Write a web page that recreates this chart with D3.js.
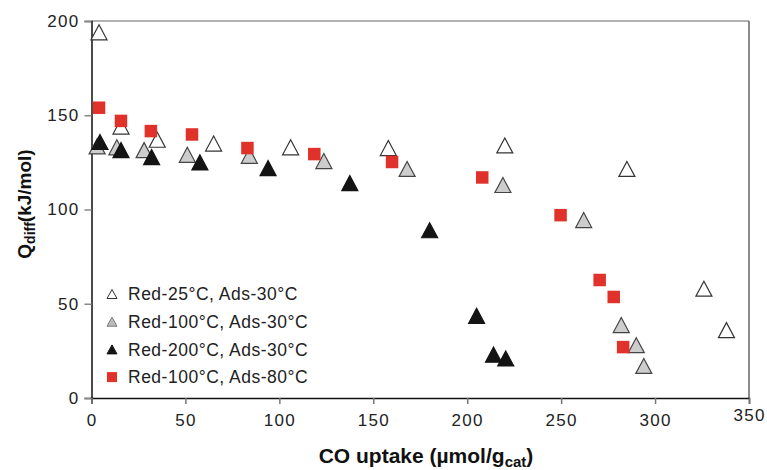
<!DOCTYPE html>
<html>
<head>
<meta charset="utf-8">
<script src="https://cdn.jsdelivr.net/npm/d3@7"></script>
<style>
  body { margin: 0; background: #fff; }
  svg text { font-family: "Liberation Sans", Arial, Helvetica, sans-serif; }
</style>
</head>
<body>
<svg id="chart" width="767" height="470"></svg>
<script>
"use strict";

// Data
var xTicks = [0, 50, 100, 150, 200, 250, 300, 350];
var yTicks = [0, 50, 100, 150, 200];

var seriesNames = ["Red-25\u00B0C, Ads-30\u00B0C", "Red-100\u00B0C, Ads-30\u00B0C",
                   "Red-200\u00B0C, Ads-30\u00B0C", "Red-100\u00B0C, Ads-80\u00B0C"];

// Red-25C, Ads-30C (open triangles)
var openX = [4, 15.7, 35, 65, 106, 158, 220, 285, 326, 338];
var openY = [194, 144, 137, 135, 133, 132.6, 134, 121.5, 58, 36];

// Red-100C, Ads-30C (grey triangles)
var greyX = [3, 13.5, 28, 51, 84, 123.7, 168, 219, 262, 282, 290, 294];
var greyY = [133.5, 133, 131.5, 129, 128.5, 125.7, 121.5, 113, 94.4, 38.7, 28, 17];

// Red-200C, Ads-30C (black triangles)
var blackX = [4.5, 15.7, 32, 57.7, 94, 137.5, 180, 205, 214, 220.5];
var blackY = [135.8, 131.5, 127.8, 125, 122, 114, 89, 43.6, 23, 21];

// Red-100C, Ads-80C (red squares)
var redX = [4, 15.7, 31.6, 53.5, 83, 118.6, 160, 208, 249.7, 270.5, 278, 283];
var redY = [154, 147, 141.6, 139.8, 132.6, 129.4, 125.2, 117, 97, 62.6, 53.6, 27];

var svg = d3.select("#chart");

var x = d3.scaleLinear().domain([0, 350]).range([91.5, 749]);
var y = d3.scaleLinear().domain([0, 200]).range([398, 21]);

// frame (top and right in grey)
svg.append("line").attr("x1", x(0)).attr("x2", x(350)).attr("y1", y(200)).attr("y2", y(200))
  .attr("stroke", "#999").attr("stroke-width", 1.5);
svg.append("line").attr("x1", x(350)).attr("x2", x(350)).attr("y1", y(200)).attr("y2", y(0))
  .attr("stroke", "#666").attr("stroke-width", 1.5);

// y axis
var yAxis = svg.append("g").attr("transform", "translate(" + x(0) + ",0)")
  .call(d3.axisLeft(y).tickValues(yTicks).tickSize(7).tickPadding(5).tickFormat(d3.format("d")));
yAxis.select(".domain").attr("stroke", "#111").attr("stroke-width", 1.5);
yAxis.selectAll(".tick line").attr("stroke", "#888").attr("stroke-width", 1.5);
yAxis.selectAll(".tick text").attr("font-size", 17).attr("letter-spacing", 1.3).attr("fill", "#222");

// x axis
var xAxis = svg.append("g").attr("transform", "translate(0," + y(0) + ")")
  .call(d3.axisBottom(x).tickValues(xTicks).tickSize(6).tickPadding(10).tickFormat(d3.format("d")));
xAxis.select(".domain").attr("stroke", "#111").attr("stroke-width", 1.5);
xAxis.selectAll(".tick line").attr("stroke", "#777").attr("stroke-width", 1.5);
xAxis.selectAll(".tick text").attr("font-size", 17).attr("letter-spacing", 1.3).attr("fill", "#222")
  .attr("dy", function (d) { return d === 350 ? "0.4em" : "0.71em"; });

// axis titles
var yt = svg.append("text")
  .attr("transform", "translate(31,204) rotate(-90)")
  .attr("text-anchor", "middle").attr("font-weight", "bold").attr("font-size", 19).attr("fill", "#111");
yt.append("tspan").text("Q");
yt.append("tspan").attr("font-size", 14).attr("dy", 4).text("diff");
yt.append("tspan").attr("dy", -4).text("(kJ/mol)");

var xt = svg.append("text")
  .attr("x", 426).attr("y", 463)
  .attr("text-anchor", "middle").attr("font-weight", "bold").attr("font-size", 21).attr("fill", "#111");
xt.append("tspan").text("CO uptake (\u00B5mol/g");
xt.append("tspan").attr("font-size", 15).attr("dy", 4).text("cat");
xt.append("tspan").attr("dy", -4).text(")");

// markers
function triPath(w, h) {
  return "M0," + (-h / 2) + "L" + (w / 2) + "," + (h / 2) + "L" + (-w / 2) + "," + (h / 2) + "Z";
}
function plotTri(xs, ys, fill, stroke) {
  svg.append("g").selectAll("path")
    .data(d3.zip(xs, ys))
    .enter().append("path")
      .attr("d", triPath(16, 15))
      .attr("transform", function (d) { return "translate(" + x(d[0]) + "," + y(d[1]) + ")"; })
      .attr("fill", fill)
      .attr("stroke", stroke)
      .attr("stroke-width", 1.2);
}
plotTri(openX, openY, "#fff", "#333");
plotTri(greyX, greyY, "#cdcdcd", "#444");
plotTri(blackX, blackY, "#141414", "#141414");

var sq = 12.5;
svg.append("g").selectAll("rect")
  .data(d3.zip(redX, redY))
  .enter().append("rect")
    .attr("x", function (d) { return x(d[0]) - sq / 2; })
    .attr("y", function (d) { return y(d[1]) - sq / 2; })
    .attr("width", sq).attr("height", sq)
    .attr("fill", "#e0322a");

// legend
var legendStyles = [
  { fill: "#fff", stroke: "#333" },
  { fill: "#bcbcbc", stroke: "#777" },
  { fill: "#141414", stroke: "#141414" },
  { fill: "#e0322a", stroke: "none", square: true }
];
var legend = svg.append("g");
seriesNames.forEach(function (name, i) {
  var ly = 294 + i * 27.7;
  var st = legendStyles[i];
  if (st.square) {
    legend.append("rect").attr("x", 107).attr("y", ly - 5).attr("width", 10).attr("height", 10).attr("fill", st.fill);
  } else {
    legend.append("path").attr("d", triPath(10, 9))
      .attr("transform", "translate(112," + ly + ")")
      .attr("fill", st.fill).attr("stroke", st.stroke).attr("stroke-width", 1);
  }
  legend.append("text").attr("x", 128).attr("y", ly).attr("dy", "0.36em")
    .attr("font-size", 17.5).attr("letter-spacing", 0.5).attr("fill", "#222").text(name);
});
</script>
</body>
</html>
